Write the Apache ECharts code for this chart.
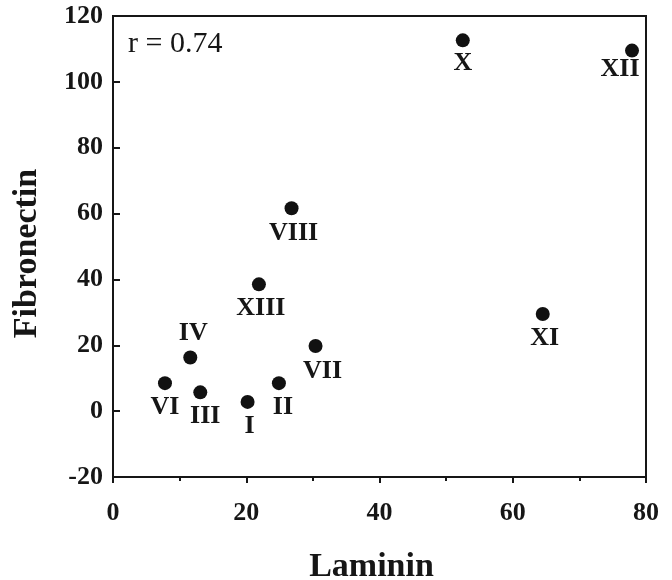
<!DOCTYPE html>
<html>
<head>
  <meta charset="UTF-8">
  <title>Laminin vs Fibronectin</title>
  <style>
    html, body { margin: 0; padding: 0; width: 100%; height: 100%; background: #fff; }
  </style>
  <script src="https://cdn.jsdelivr.net/npm/echarts@6/dist/echarts.min.js"></script>
</head>
<body>
<div id="main" style="width: 672px; height: 580px;"></div>

<script>
  // data
  var names       = ['I', 'II', 'III', 'IV', 'VI', 'VII', 'VIII', 'X', 'XI', 'XII', 'XIII'];
  var laminin     = [20.2, 24.9, 13.1, 11.6, 7.8, 30.4, 26.8, 52.5, 64.5, 77.9, 21.9];
  var fibronectin = [2.8, 8.5, 5.7, 16.3, 8.5, 19.8, 61.6, 112.6, 29.5, 109.5, 38.5];
  var xTicks = [0, 20, 40, 60, 80];
  var yTicks = [-20, 0, 20, 40, 60, 80, 100, 120];

  // label placement (style only)
  var labelPlace = {
    'I':    { pos: 'bottom', off: [2, 0] },
    'II':   { pos: 'bottom', off: [4, 0] },
    'III':  { pos: 'bottom', off: [5, 0] },
    'IV':   { pos: 'top',    off: [3, 0] },
    'VI':   { pos: 'bottom', off: [0, 0] },
    'VII':  { pos: 'bottom', off: [7, 1] },
    'VIII': { pos: 'bottom', off: [2, 1] },
    'X':    { pos: 'bottom', off: [0, -1] },
    'XI':   { pos: 'bottom', off: [2, 0] },
    'XII':  { pos: 'bottom', off: [-12, -5] },
    'XIII': { pos: 'bottom', off: [2, 0] }
  };

  var serif = '"Liberation Serif", "DejaVu Serif", serif';
  var ink = '#161616';
  var chart = echarts.init(document.getElementById('main'));

  var points = names.map(function (n, i) {
    var p = labelPlace[n];
    return {
      name: n,
      value: [laminin[i], fibronectin[i]],
      label: { position: p.pos, offset: p.off }
    };
  });

  var option = {
    animation: false,
    backgroundColor: '#fff',
    grid: {
      left: 113, right: 26, top: 16, bottom: 103,
      outerBoundsMode: 'none',
      show: true, borderColor: ink, borderWidth: 2
    },
    graphic: [{
      type: 'text', left: 128, top: 29,
      style: { text: 'r = 0.74', font: '30px ' + serif, fill: ink }
    }],
    xAxis: {
      type: 'value',
      min: xTicks[0], max: xTicks[xTicks.length - 1], interval: 20,
      name: 'Laminin', nameLocation: 'middle', nameGap: 73,
      nameTextStyle: { fontFamily: serif, fontWeight: 'bold', fontSize: 34, color: ink, padding: [0, 16, 0, 0] },
      axisLine: { onZero: false, lineStyle: { color: ink, width: 2 } },
      axisTick: { show: true, inside: false, length: 6, lineStyle: { color: ink, width: 2 } },
      minorTick: { show: true, splitNumber: 2, length: 4, lineStyle: { color: ink, width: 2 } },
      axisLabel: { fontFamily: serif, fontWeight: 'bold', fontSize: 26, color: ink, margin: 23 },
      splitLine: { show: false }
    },
    yAxis: {
      type: 'value',
      min: yTicks[0], max: yTicks[yTicks.length - 1], interval: 20,
      name: 'Fibronectin', nameLocation: 'middle', nameGap: 69, nameRotate: 90,
      nameTextStyle: { fontFamily: serif, fontWeight: 'bold', fontSize: 34, color: ink, padding: [0, 14, 0, 0] },
      axisLine: { onZero: false, lineStyle: { color: ink, width: 2 } },
      axisTick: { show: true, inside: true, length: 7, lineStyle: { color: ink, width: 2 } },
      axisLabel: { fontFamily: serif, fontWeight: 'bold', fontSize: 26, color: ink, margin: 10 },
      splitLine: { show: false }
    },
    series: [{
      type: 'scatter',
      symbol: 'circle',
      symbolSize: 14,
      itemStyle: { color: '#111', opacity: 1 },
      label: {
        show: true,
        formatter: '{b}',
        distance: 4,
        fontFamily: serif, fontWeight: 'bold', fontSize: 26, color: ink
      },
      data: points
    }]
  };

  chart.setOption(option);
</script>
</body>
</html>
